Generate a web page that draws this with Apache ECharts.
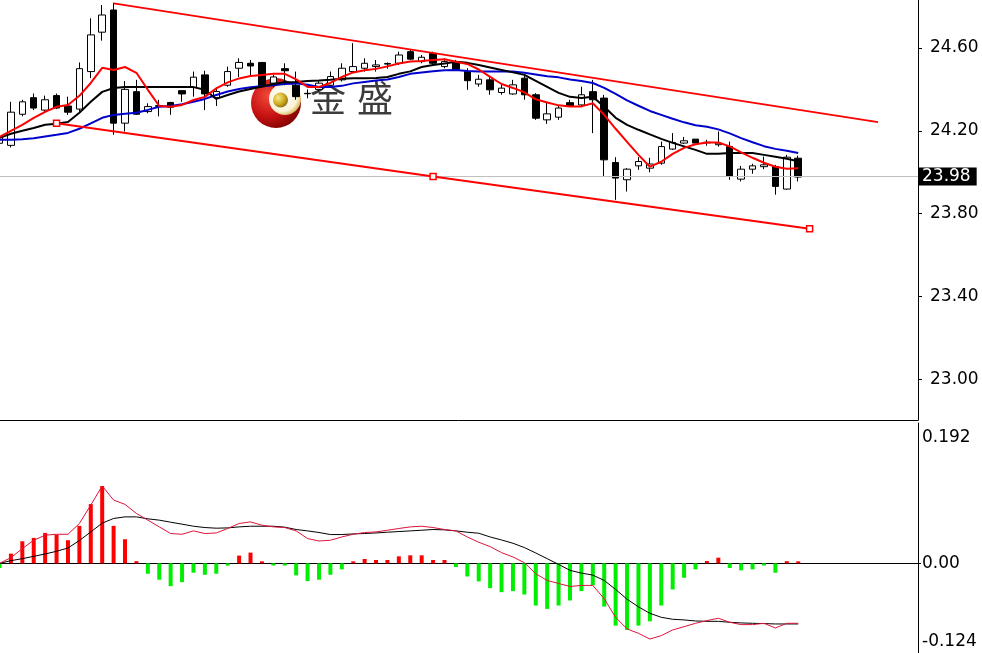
<!DOCTYPE html>
<html><head><meta charset="utf-8">
<script src="https://cdn.jsdelivr.net/npm/echarts@6/dist/echarts.min.js"></script>
<style>html,body{margin:0;padding:0;background:#fff}#c{width:982px;height:653px}</style>
</head><body><div id="c"></div>
<script>
// ---- data ----
const barLabels = Array.from({length: 71}, (_, i) => String(i + 1));
const opens  = [24.14,24.13,24.28,24.36,24.30,24.37,24.32,24.305,24.486,24.676,24.783,24.237,24.389,24.293,24.318,24.337,24.394,24.41,24.47,24.36,24.42,24.502,24.526,24.53,24.43,24.50,24.42,24.381,24.40,24.42,24.446,24.486,24.502,24.51,24.522,24.526,24.582,24.534,24.574,24.51,24.534,24.486,24.426,24.446,24.385,24.378,24.454,24.374,24.253,24.266,24.336,24.325,24.389,24.358,24.047,23.964,24.031,24.02,24.044,24.112,24.141,24.16,24.145,24.133,24.124,23.967,24.015,24.027,24.028,23.919,24.068];
const closes = [24.17,24.29,24.34,24.31,24.35,24.31,24.29,24.50,24.663,24.759,24.237,24.40,24.28,24.317,24.322,24.314,24.378,24.459,24.378,24.39,24.486,24.53,24.513,24.413,24.46,24.49,24.365,24.379,24.43,24.462,24.502,24.51,24.526,24.518,24.525,24.566,24.546,24.555,24.526,24.534,24.497,24.442,24.449,24.398,24.406,24.422,24.374,24.261,24.282,24.31,24.32,24.374,24.35,24.06,23.972,24.015,24.052,24.04,24.124,24.144,24.152,24.141,24.142,24.141,23.98,24.015,24.031,24.036,23.932,24.073,23.977];
const lows   = [24.12,24.12,24.27,24.30,24.29,24.305,24.277,24.293,24.454,24.635,24.181,24.197,24.277,24.285,24.27,24.277,24.34,24.365,24.30,24.32,24.413,24.46,24.46,24.41,24.41,24.42,24.35,24.357,24.39,24.413,24.438,24.478,24.486,24.486,24.50,24.518,24.542,24.526,24.518,24.502,24.494,24.398,24.413,24.374,24.374,24.374,24.35,24.253,24.234,24.253,24.317,24.317,24.189,23.98,23.867,23.907,24.012,24.0,24.036,24.108,24.137,24.141,24.128,24.124,23.964,23.956,23.993,24.015,23.892,23.916,23.956];
const highs  = [24.19,24.34,24.35,24.38,24.37,24.38,24.365,24.53,24.743,24.807,24.818,24.44,24.446,24.333,24.35,24.34,24.396,24.486,24.49,24.41,24.51,24.55,24.542,24.532,24.47,24.526,24.486,24.40,24.44,24.486,24.526,24.623,24.55,24.542,24.53,24.582,24.59,24.566,24.582,24.55,24.542,24.502,24.47,24.462,24.422,24.446,24.47,24.382,24.341,24.325,24.35,24.413,24.446,24.374,24.073,24.02,24.073,24.07,24.148,24.189,24.17,24.16,24.157,24.197,24.148,24.031,24.041,24.076,24.036,24.084,24.08];

const maRed   = [24.171,24.200,24.229,24.263,24.292,24.316,24.325,24.369,24.431,24.504,24.494,24.508,24.480,24.398,24.320,24.316,24.325,24.349,24.364,24.405,24.434,24.453,24.465,24.470,24.475,24.475,24.448,24.412,24.412,24.431,24.460,24.482,24.492,24.499,24.511,24.525,24.535,24.537,24.542,24.545,24.533,24.523,24.496,24.460,24.426,24.407,24.386,24.352,24.337,24.323,24.317,24.318,24.333,24.277,24.210,24.147,24.084,24.027,24.051,24.089,24.118,24.135,24.144,24.144,24.125,24.096,24.070,24.046,24.027,24.017,24.019];
const maBlack = [24.166,24.186,24.200,24.214,24.229,24.234,24.243,24.287,24.340,24.388,24.407,24.411,24.411,24.411,24.411,24.411,24.411,24.411,24.398,24.354,24.373,24.390,24.402,24.414,24.426,24.434,24.436,24.441,24.443,24.446,24.451,24.454,24.454,24.455,24.460,24.475,24.487,24.508,24.518,24.525,24.533,24.528,24.518,24.506,24.494,24.482,24.470,24.441,24.412,24.383,24.364,24.358,24.364,24.316,24.263,24.229,24.205,24.183,24.161,24.142,24.125,24.108,24.089,24.089,24.093,24.093,24.093,24.084,24.075,24.065,24.053];
const maBlue  = [24.157,24.157,24.159,24.164,24.173,24.181,24.190,24.210,24.236,24.263,24.277,24.282,24.287,24.301,24.316,24.320,24.328,24.340,24.354,24.373,24.390,24.402,24.410,24.415,24.420,24.426,24.429,24.422,24.412,24.411,24.417,24.429,24.436,24.443,24.448,24.460,24.475,24.482,24.487,24.492,24.494,24.489,24.486,24.486,24.486,24.486,24.480,24.472,24.463,24.458,24.448,24.441,24.431,24.407,24.378,24.347,24.321,24.296,24.277,24.258,24.241,24.227,24.220,24.207,24.188,24.165,24.145,24.126,24.113,24.104,24.093];

// trend lines: [bar index, price]
const upperLine = [[10, 24.815], [77, 24.242]];
const lowerLine = [[5, 24.237], [38, 23.980], [71, 23.728]];
const lastPrice = 23.98;

const macdHist = [-0.0064,0.0133,0.0302,0.0348,0.0416,0.0394,0.0316,0.0513,0.0811,0.1058,0.0513,0.033,0.003,-0.0142,-0.0224,-0.0312,-0.0257,-0.0128,-0.0156,-0.0142,-0.0032,0.0106,0.0147,0.001,-0.003,-0.003,-0.0165,-0.0243,-0.0224,-0.0156,-0.0082,0.001,0.006,0.0046,0.0046,0.0096,0.011,0.011,0.0046,0.0046,-0.005,-0.0179,-0.0247,-0.0339,-0.0394,-0.038,-0.0426,-0.0577,-0.0623,-0.0577,-0.0508,-0.038,-0.0302,-0.0591,-0.0852,-0.0911,-0.0852,-0.0793,-0.0577,-0.0357,-0.0197,-0.0082,0.0032,0.0078,-0.0064,-0.0096,-0.0082,-0.003,-0.0128,0.003,0.001];
const macdFast = [0.000,0.0078,0.0202,0.0316,0.0385,0.0398,0.0398,0.0545,0.0797,0.1058,0.0866,0.0807,0.0683,0.0591,0.0499,0.0408,0.0398,0.0444,0.0408,0.0416,0.0477,0.0545,0.0567,0.0522,0.0499,0.049,0.0444,0.0339,0.0306,0.0316,0.0361,0.0398,0.0422,0.043,0.0453,0.0477,0.0499,0.0508,0.049,0.0463,0.0444,0.0361,0.0289,0.0229,0.0147,0.0087,0.001,-0.0142,-0.0234,-0.0275,-0.0316,-0.0302,-0.0302,-0.0485,-0.0738,-0.0897,-0.0957,-0.1035,-0.0989,-0.0911,-0.0866,-0.082,-0.0783,-0.0751,-0.0806,-0.0838,-0.0838,-0.082,-0.0884,-0.082,-0.082];
const macdSlow = [0.000,0.0037,0.0064,0.0096,0.0128,0.0165,0.021,0.0312,0.043,0.055,0.0614,0.0636,0.0636,0.0609,0.0591,0.0563,0.0536,0.0508,0.049,0.0481,0.0485,0.0499,0.0508,0.0508,0.0508,0.0495,0.0463,0.0444,0.0422,0.0394,0.0394,0.0403,0.0408,0.0416,0.0426,0.0435,0.0444,0.0453,0.0463,0.0458,0.0444,0.0426,0.0412,0.0361,0.032,0.0275,0.0216,0.0142,0.0064,-0.0014,-0.0096,-0.0133,-0.0161,-0.0234,-0.0357,-0.049,-0.0595,-0.0683,-0.0738,-0.0765,-0.0774,-0.0788,-0.0793,-0.0793,-0.0806,-0.0815,-0.082,-0.0824,-0.0829,-0.0829,-0.0829];

const priceTicks = [23.00, 23.40, 23.80, 24.20, 24.60];
const macdTicks = [-0.124, 0, 0.192];
const priceRange = [22.8048, 24.8313];
const macdRange = [-0.124, 0.192];

// ---- build ----
const padCount = 10;
const cats = barLabels.concat(Array.from({length: padCount}, (_, i) => 'p' + i));
const candles = opens.map((o, i) => [o, closes[i], lows[i], highs[i]]);
const FONT = 'DejaVu Sans';
const FS = 17;
const G = echarts.graphic;

const chart = echarts.init(document.getElementById('c'));
chart.setOption({
  animation: false,
  backgroundColor: '#fff',
  grid: [
    {left: -6.2, right: 64, top: 0, height: 420, outerBoundsMode: 'none', containLabel: false},
    {left: -6.2, right: 64, top: 423, height: 231, outerBoundsMode: 'none', containLabel: false}
  ],
  xAxis: [
    {type: 'category', gridIndex: 0, data: cats, boundaryGap: true, position: 'bottom',
     axisLine: {show: true, lineStyle: {color: '#000', width: 1}}, axisTick: {show: false}, axisLabel: {show: false}, splitLine: {show: false}},
    {type: 'category', gridIndex: 1, data: cats, boundaryGap: true, position: 'top',
     axisLine: {show: true, lineStyle: {color: '#000', width: 1}}, axisTick: {show: false}, axisLabel: {show: false}, splitLine: {show: false}}
  ],
  yAxis: [
    {type: 'value', gridIndex: 0, position: 'right', min: priceRange[0], max: priceRange[1], scale: true,
     axisLine: {show: true, lineStyle: {color: '#000', width: 1}},
     axisTick: {show: true, length: 4, customValues: priceTicks, lineStyle: {color: '#000'}},
     axisLabel: {show: true, customValues: priceTicks, margin: 12, color: '#000', fontFamily: FONT, fontSize: FS,
                 formatter: v => v.toFixed(2)},
     splitLine: {show: false}},
    {type: 'value', gridIndex: 1, position: 'right', min: macdRange[0], max: macdRange[1],
     axisLine: {show: true, lineStyle: {color: '#000', width: 1}},
     axisTick: {show: true, length: 3, customValues: [0], lineStyle: {color: '#000'}},
     axisLabel: {show: true, customValues: macdTicks, margin: 4, color: '#000', fontFamily: FONT, fontSize: FS,
                 verticalAlignMaxLabel: 'top', verticalAlignMinLabel: 'bottom',
                 formatter: v => v === 0 ? '0.00' : (v > 0 ? '{t|' + v.toFixed(3) + '}' : '{b|' + v.toFixed(3) + '}'),
                 rich: {t: {padding: [6, 0, 0, 0], fontFamily: FONT, fontSize: FS, color: '#000'},
                        b: {padding: [0, 0, 4, 0], fontFamily: FONT, fontSize: FS, color: '#000'}}},
     splitLine: {show: false}}
  ],
  graphic: [
    {type: 'circle', z: 1, shape: {cx: 276, cy: 103, r: 25},
     style: {fill: new G.RadialGradient(0.35, 0.35, 0.75, [{offset: 0, color: '#f04a3a'}, {offset: 0.55, color: '#c81212'}, {offset: 1, color: '#780000'}])}},
    {type: 'circle', z: 1, shape: {cx: 285, cy: 99, r: 16},
     style: {fill: new G.RadialGradient(0.4, 0.4, 0.65, [{offset: 0, color: '#ffffff'}, {offset: 0.75, color: '#fbf3d6'}, {offset: 1, color: '#d2b04a'}])}},
    {type: 'circle', z: 1, shape: {cx: 280.5, cy: 100, r: 7.5},
     style: {fill: new G.RadialGradient(0.35, 0.35, 0.7, [{offset: 0, color: '#f6ea8a'}, {offset: 0.6, color: '#d0ac22'}, {offset: 1, color: '#8f7010'}])}},
    {type: 'text', z: 1, x: 310, y: 80, style: {text: '金', fontFamily: 'Noto Sans CJK SC', fontSize: 36, fill: '#3c3c3c', verticalAlign: 'top'}},
    {type: 'text', z: 1, x: 357, y: 80, style: {text: '盛', fontFamily: 'Noto Sans CJK SC', fontSize: 36, fill: '#3c3c3c', verticalAlign: 'top'}}
  ],
  series: [
    {type: 'line', xAxisIndex: 0, yAxisIndex: 0, data: [], z: 1,
     markLine: {symbol: 'none', silent: true, animation: false,
       lineStyle: {color: '#c0c0c0', width: 1, type: 'solid'},
       label: {position: 'end', distance: 1, formatter: p => p.value.toFixed(2), color: '#fff', backgroundColor: '#000',
               padding: [1, 6, 0, 3], fontFamily: FONT, fontSize: FS},
       data: [{yAxis: lastPrice}]}},
    {type: 'candlestick', xAxisIndex: 0, yAxisIndex: 0, data: candles, barWidth: 7, z: 2,
     itemStyle: {color: '#fff', color0: '#000', borderColor: '#000', borderColor0: '#000', borderWidth: 1}},
    {type: 'line', xAxisIndex: 0, yAxisIndex: 0, data: maBlue, showSymbol: false, z: 3, lineStyle: {color: '#0000cc', width: 2}},
    {type: 'line', xAxisIndex: 0, yAxisIndex: 0, data: maBlack, showSymbol: false, z: 3, lineStyle: {color: '#000', width: 2}},
    {type: 'line', xAxisIndex: 0, yAxisIndex: 0, data: maRed, showSymbol: false, z: 4, lineStyle: {color: '#ff0000', width: 2}},
    {type: 'line', xAxisIndex: 0, yAxisIndex: 0, data: upperLine, showSymbol: false, z: 5, lineStyle: {color: '#ff0000', width: 2}},
    {type: 'line', xAxisIndex: 0, yAxisIndex: 0, data: lowerLine, symbol: 'rect', symbolSize: 6, showSymbol: true, z: 5,
     lineStyle: {color: '#ff0000', width: 2}, itemStyle: {color: '#fff', borderColor: '#ff0000', borderWidth: 1.5}},
    {type: 'bar', xAxisIndex: 1, yAxisIndex: 1, data: macdHist, barWidth: 4, barMinHeight: 2, z: 2,
     itemStyle: {color: p => p.value >= 0 ? '#ff0000' : '#00ee00'}},
    {type: 'line', xAxisIndex: 1, yAxisIndex: 1, data: macdSlow, showSymbol: false, z: 3, lineStyle: {color: '#000', width: 1}},
    {type: 'line', xAxisIndex: 1, yAxisIndex: 1, data: macdFast, showSymbol: false, z: 4, lineStyle: {color: '#dc143c', width: 1}}
  ]
});
</script></body></html>
